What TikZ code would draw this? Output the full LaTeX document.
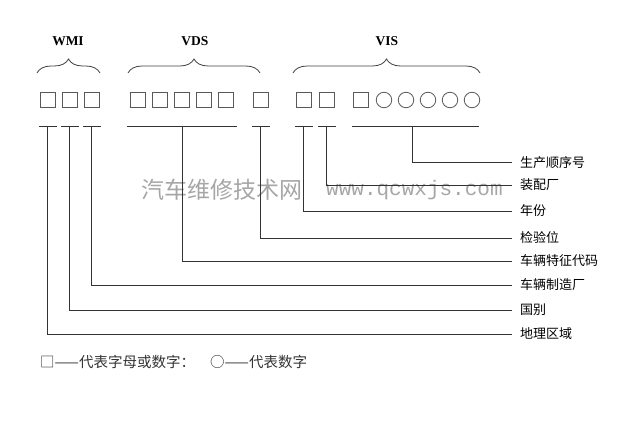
\documentclass[tikz,border=0pt]{standalone}
\usepackage{fontspec}
\setmainfont{Liberation Serif}
\newfontfamily\cjk{Noto Sans CJK SC}
\newfontfamily\wmmono{Liberation Mono}
\usetikzlibrary{calc,decorations.pathreplacing}
\begin{document}
\begin{tikzpicture}[x=1pt,y=-1pt,
    every node/.style={inner sep=0pt},
    sq/.style={draw=black!65,line width=0.8pt,minimum size=14.5pt},
    rd/.style={draw=black!65,line width=0.8pt,circle,minimum size=15.5pt},
    grp/.style={font=\fontsize{13.5}{15}\selectfont\bfseries},
    brc/.style={decorate,decoration={brace,amplitude=14pt},line width=0.8pt,black!75},
    lbl/.style={anchor=west,font=\cjk\fontsize{13}{15}\selectfont},
    key/.style={anchor=west,font=\cjk\fontsize{14.5}{16}\selectfont,text=black!80},
    wire/.style={line width=1pt,black!80}]
    \useasboundingbox (0,0) rectangle (640,425);
    \node[anchor=west,font=\cjk\fontsize{23}{25}\selectfont,text=black!35] (wmcn) at (141,190) {汽车维修技术网};
    \node[anchor=west,font=\wmmono\fontsize{21}{23}\selectfont,text=black!35] (wmurl) at (326,190) {www.qcwxjs.com};
    \node[grp] (wmi) at (68,41) {WMI};
    \node[grp] (vds) at (195,41) {VDS};
    \node[grp] (vis) at (387,41) {VIS};
    \draw[brc] (37,73) -- (100,73);
    \draw[brc] (128,73) -- (260,73);
    \draw[brc] (293,73) -- (480,73);
    \foreach \x [count=\i] in {48,70,92}
        \node[sq] (w\i) at (\x,100) {};
    \foreach \x [count=\i] in {138,160,182,204,226}
        \node[sq] (d\i) at (\x,100) {};
    \node[sq] (dc) at (261,100) {};
    \node[sq] (v1) at (304,100) {};
    \node[sq] (v2) at (327,100) {};
    \node[sq] (v3) at (361,100) {};
    \foreach \x [count=\i] in {384,406,428,450,472}
        \node[rd] (c\i) at (\x,100) {};
    \node[lbl] (seq) at (520,163) {生产顺序号};
    \node[lbl] (plant) at (520,185) {装配厂};
    \node[lbl] (year) at (520,211) {年份};
    \node[lbl] (check) at (520,238) {检验位};
    \node[lbl] (code) at (520,261) {车辆特征代码};
    \node[lbl] (maker) at (520,285) {车辆制造厂};
    \node[lbl] (country) at (520,310) {国别};
    \node[lbl] (area) at (520,334) {地理区域};
    \foreach \n/\l in {w1/area,w2/country,w3/maker,dc/check,v1/year,v2/plant} {
        \draw[wire] ($(\n)+(-9,27)$) -- ($(\n)+(9,27)$);
        \draw[wire] ($(\n)+(-1,27)$) |- ([xshift=-8pt]\l.west);
    }
    \draw[wire] ($(d1)+(-11,27)$) -- ($(d5)+(11,27)$);
    \draw[wire] ($(d3)+(0,27)$) |- ([xshift=-8pt]code.west);
    \coordinate (vs) at (412,127);
    \draw[wire] ($(v3)+(-9,27)$) -- ($(c5)+(7,27)$);
    \draw[wire] (vs) |- ([xshift=-8pt]seq.west);
    \node[key] (key1) at (40,362) {□——代表字母或数字：};
    \node[key] (key2) at (210,362) {○——代表数字};
\end{tikzpicture}
\end{document}
